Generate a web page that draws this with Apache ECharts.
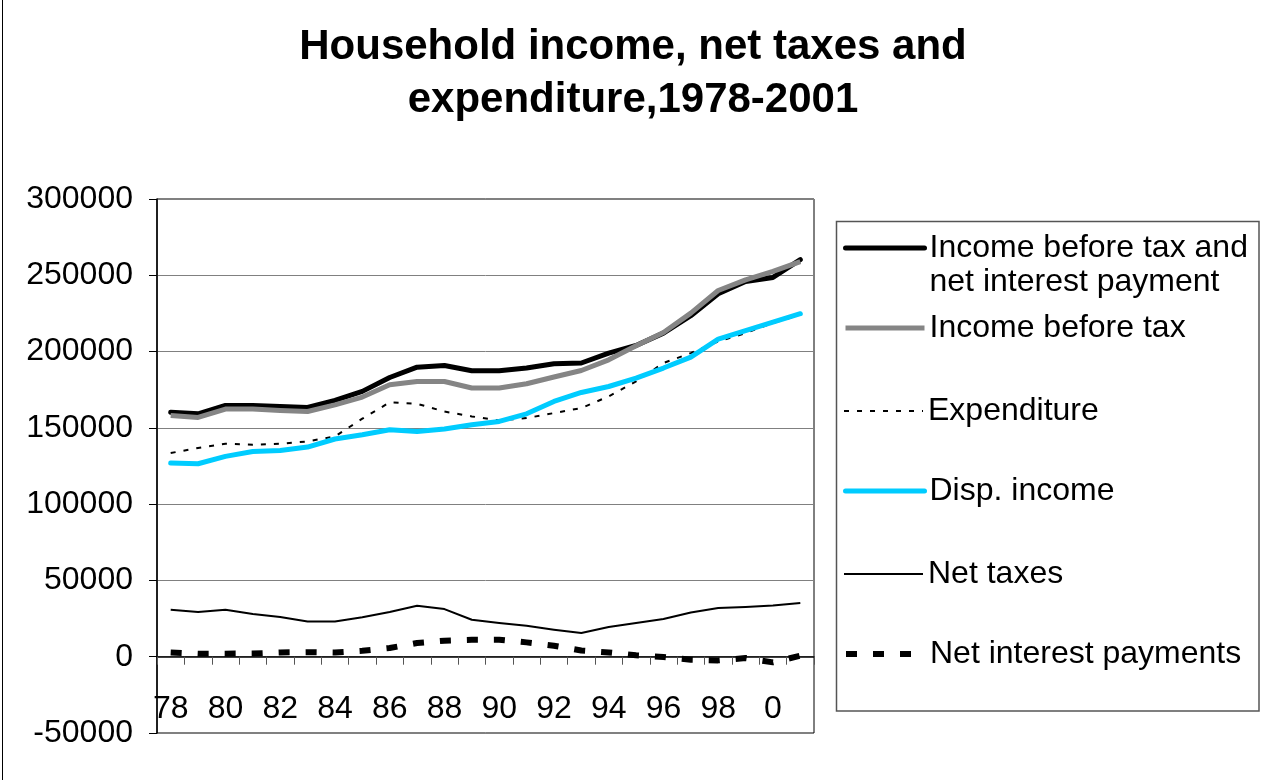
<!DOCTYPE html>
<html>
<head>
<meta charset="utf-8">
<title>Household income, net taxes and expenditure, 1978-2001</title>
<script src="https://cdn.jsdelivr.net/npm/echarts@6/dist/echarts.min.js"></script>
<style>
  html, body { margin: 0; padding: 0; background: #fff; }
  #chart { width: 1266px; height: 780px; }
</style>
</head>
<body>
<div id="chart"></div>
<script>
// Years 1978-2001, labelled by their last digits
const years = ['78', '79', '80', '81', '82', '83', '84', '85', '86', '87', '88', '89',
               '90', '91', '92', '93', '94', '95', '96', '97', '98', '99', '0', '1'];

const incomeBeforeTaxAndInterest = [160300, 159200, 164700, 164700, 164000, 163400, 168000, 173900,
  183000, 189800, 190900, 187400, 187400, 189200, 192000, 192500, 199000, 204000, 212100, 223500,
  237900, 245900, 248600, 260200];

const incomeBeforeTax = [158100, 156800, 162300, 162300, 161400, 160700, 165100, 170200,
  178200, 180400, 180400, 176100, 176100, 178900, 183300, 187600, 194600, 203800, 212500, 225200,
  240000, 247000, 252500, 259000];

const expenditure = [133500, 136800, 139600, 138900, 139600, 141100, 144400, 156000,
  166700, 165800, 160700, 157500, 154900, 156400, 159700, 163000, 170600, 180400, 192500, 199000,
  206600, 212100, 218700, 224100];

const dispIncome = [126900, 126500, 131300, 134500, 135200, 137400, 142700, 145500,
  148800, 147600, 149200, 152000, 154200, 159200, 167300, 173200, 177100, 182600, 189200, 196400,
  208200, 213800, 219300, 224800];

const netTaxes = [30800, 29300, 30800, 28000, 26000, 23100, 23100, 25800,
  29300, 33400, 31200, 24200, 22100, 20300, 17700, 15500, 19500, 22100, 24700, 29000,
  31900, 32600, 33600, 35200];

const netInterest = [2800, 2000, 2000, 2100, 2800, 3000, 2800, 3900,
  5700, 9000, 10500, 11100, 11100, 9400, 7200, 4100, 2800, 900, -200, -2000,
  -2400, -900, -3700, 700];

const seriesNames = [
  'Income before tax and net interest payment',
  'Income before tax',
  'Expenditure',
  'Disp. income',
  'Net taxes',
  'Net interest payments'
];

const Y_MIN = -50000;
const Y_MAX = 300000;
const Y_STEP = 50000;

const FONT = "'Liberation Sans', Arial, Helvetica, sans-serif";
const LABEL_SIZE = 32;
const LEGEND_LINE = 34;

const chart = echarts.init(document.getElementById('chart'), null, { renderer: 'canvas' });

// One legend block per entry so each row sits at its own height
function legendEntry(name, centerY, width) {
  return {
    data: [name],
    orient: 'vertical',
    left: 843,
    top: centerY - 20,
    padding: 0,
    itemWidth: 79,
    itemHeight: 40,
    selectedMode: false,
    lineStyle: { width: width },
    itemStyle: { color: 'transparent', borderColor: 'transparent', borderWidth: 0, opacity: 0 },
    textStyle: { fontSize: LABEL_SIZE, color: '#000', fontFamily: FONT, lineHeight: LEGEND_LINE }
  };
}

// The first entry wraps onto two lines; a leading blank line keeps
// its first line level with the legend stroke.
const firstLegend = legendEntry(seriesNames[0], 248, 5);
firstLegend.top = 248 - 20 - 31;
firstLegend.formatter = function () { return '\nIncome before tax and\nnet interest payment'; };

const legends = [
  firstLegend,
  legendEntry(seriesNames[1], 331, 5),
  legendEntry(seriesNames[2], 414, 2),
  legendEntry(seriesNames[3], 494, 5),
  legendEntry(seriesNames[4], 577, 2),
  legendEntry(seriesNames[5], 657, 6)
];

const option = {
  backgroundColor: '#fff',
  animation: false,
  textStyle: { fontFamily: FONT },
  title: {
    text: 'Household income, net taxes and\nexpenditure,1978-2001',
    left: 'center',
    top: 21,
    padding: 0,
    textStyle: { fontSize: 42, fontWeight: 'bold', color: '#000', lineHeight: 53, fontFamily: FONT, align: 'center' }
  },
  legend: legends,
  grid: {
    left: 157,
    right: 452,
    top: 199,
    bottom: 47,
    containLabel: false,
    outerBoundsMode: 'none',
    show: true,
    borderColor: '#000',
    borderWidth: 1,
    backgroundColor: 'transparent'
  },
  xAxis: {
    type: 'category',
    data: years,
    position: 'bottom',
    boundaryGap: true,
    axisLine: { onZero: false, lineStyle: { color: '#000', width: 1.5 } },
    axisTick: { show: true, interval: 0, length: 8, lineStyle: { color: '#555', width: 1 } },
    axisLabel: { interval: 1, margin: 36, fontSize: LABEL_SIZE, color: '#000', fontFamily: FONT },
    splitLine: { show: false }
  },
  yAxis: {
    type: 'value',
    min: Y_MIN,
    max: Y_MAX,
    interval: Y_STEP,
    axisLine: { show: true, onZero: false, lineStyle: { color: '#000', width: 1.5 } },
    axisTick: { show: true, length: 8, lineStyle: { color: '#000', width: 1 } },
    axisLabel: {
      margin: 24, fontSize: LABEL_SIZE, color: '#000', fontFamily: FONT,
      formatter: function (v) { return String(v); }
    },
    splitLine: { show: true, lineStyle: { color: '#808080', width: 1 } }
  },
  series: [
    {
      name: seriesNames[0], type: 'line', data: incomeBeforeTaxAndInterest,
      symbol: 'none', silent: true,
      lineStyle: { color: '#000', width: 5, cap: 'round', join: 'round' },
      itemStyle: { color: '#000' }
    },
    {
      name: seriesNames[1], type: 'line', data: incomeBeforeTax,
      symbol: 'none', silent: true,
      lineStyle: { color: '#858585', width: 5, cap: 'butt', join: 'round' },
      itemStyle: { color: '#858585' }
    },
    {
      name: seriesNames[2], type: 'line', data: expenditure,
      symbol: 'none', silent: true,
      lineStyle: { color: '#000', width: 2, type: [5, 8] },
      itemStyle: { color: '#000' }
    },
    {
      name: seriesNames[3], type: 'line', data: dispIncome,
      symbol: 'none', silent: true,
      lineStyle: { color: '#00CCFF', width: 5, cap: 'round', join: 'round' },
      itemStyle: { color: '#00CCFF' }
    },
    {
      name: seriesNames[4], type: 'line', data: netTaxes,
      symbol: 'none', silent: true,
      lineStyle: { color: '#000', width: 2, join: 'round' },
      itemStyle: { color: '#000' }
    },
    {
      name: seriesNames[5], type: 'line', data: netInterest,
      symbol: 'none', silent: true,
      lineStyle: { color: '#000', width: 6, type: [11, 16] },
      itemStyle: { color: '#000' }
    }
  ],
  graphic: [
    {
      type: 'rect',
      shape: { x: 836.5, y: 221.5, width: 422.5, height: 489.5 },
      style: { fill: 'none', stroke: '#555', lineWidth: 1.5 },
      silent: true, z: -1
    },
    {
      type: 'line',
      shape: { x1: 2.5, y1: 0, x2: 2.5, y2: 780 },
      style: { stroke: '#000', lineWidth: 1 },
      silent: true
    }
  ]
};

chart.setOption(option);

// Lift the category axis from the bottom edge up to the zero line,
// using the value axis' own scale to find where zero sits.
const zeroY = chart.convertToPixel({ yAxisIndex: 0 }, 0);
const floorY = chart.convertToPixel({ yAxisIndex: 0 }, Y_MIN);
chart.setOption({ xAxis: { offset: zeroY - floorY } });
</script>
</body>
</html>
